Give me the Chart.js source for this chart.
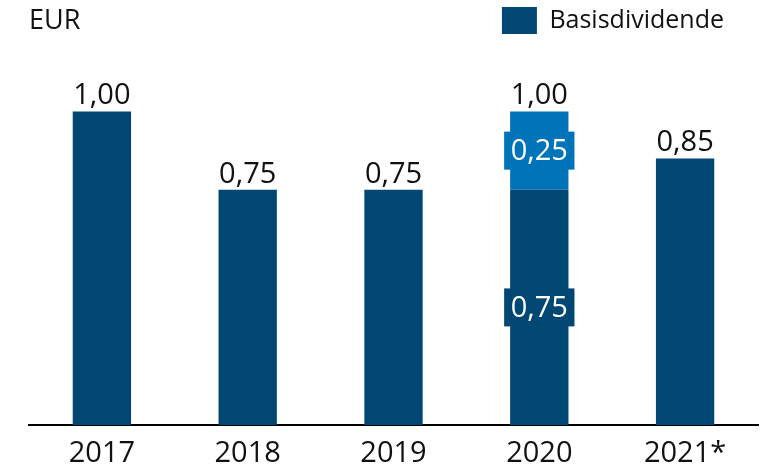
<!DOCTYPE html>
<html><head><meta charset="utf-8">
<script src="https://cdn.jsdelivr.net/npm/chart.js@4"></script>
<style>html,body{margin:0;padding:0;background:#fff}#wrap{width:781px;height:465px}</style>
</head><body><div id="wrap"><canvas id="c"></canvas></div>
<script>
const categories = ['2017', '2018', '2019', '2020', '2021*'];
const basisValues = [1.00, 0.75, 0.75, 0.75, 0.85];
const sonderValues = [0, 0, 0, 0.25, 0];
const seriesNames = ['Basisdividende', 'Sonderdividende'];
const unitLabel = 'EUR';

const FONT = '"Open Sans", "Noto Sans", sans-serif';
const fmt = v => v.toFixed(2).replace('.', ',');

const legendShift = {
  id: 'legendShift',
  afterLayout(chart) {
    if (chart.legend) chart.legend.right -= 27;
  }
};

const labelPlugin = {
  id: 'labels',
  afterDatasetsDraw(chart) {
    const ctx = chart.ctx;
    ctx.save();
    ctx.font = '27px ' + FONT;
    ctx.fillStyle = '#111';
    ctx.textAlign = 'left';
    ctx.textBaseline = 'middle';
    ctx.fillText(unitLabel, 29, 21);

    const n = chart.data.labels.length;
    for (let i = 0; i < n; i++) {
      let total = 0, topEl = null, nonzero = [];
      chart.data.datasets.forEach((ds, di) => {
        const v = ds.data[i];
        if (v) {
          total += v;
          const el = chart.getDatasetMeta(di).data[i];
          nonzero.push({ el, v, color: ds.backgroundColor });
          if (!topEl || el.y < topEl.y) topEl = el;
        }
      });
      if (!topEl) continue;
      ctx.font = '29px ' + FONT;
      ctx.fillStyle = '#111';
      ctx.textAlign = 'center';
      ctx.textBaseline = 'alphabetic';
      ctx.fillText(fmt(total), topEl.x, topEl.y - 7);
      if (nonzero.length > 1) {
        nonzero.forEach(({ el, v, color }) => {
          const cy = (el.y + el.base) / 2;
          const w = el.width + 12, h = 38;
          ctx.fillStyle = color;
          ctx.fillRect(el.x - w / 2, cy - h / 2, w, h);
          ctx.fillStyle = '#fff';
          ctx.textBaseline = 'middle';
          ctx.fillText(fmt(v), el.x, cy + 1);
        });
      }
    }
    ctx.restore();
  }
};

new Chart(document.getElementById('c'), {
  type: 'bar',
  data: {
    labels: categories,
    datasets: [
      { label: seriesNames[0], data: basisValues, backgroundColor: '#004873', barPercentage: 0.4, categoryPercentage: 1 },
      { label: seriesNames[1], data: sonderValues, backgroundColor: '#0073b9', barPercentage: 0.4, categoryPercentage: 1 }
    ]
  },
  options: {
    responsive: true,
    maintainAspectRatio: false,
    animation: false,
    layout: { padding: { left: 29, right: 23, top: 0, bottom: 0 } },
    plugins: {
      tooltip: { enabled: false },
      legend: {
        position: 'top',
        align: 'end',
        labels: {
          filter: item => item.datasetIndex === 0,
          boxWidth: 35,
          boxHeight: 27,
          color: '#111',
          font: { family: FONT, size: 25 },
          padding: 7
        }
      }
    },
    scales: {
      x: {
        stacked: true,
        grid: { display: false, drawTicks: false },
        border: { display: true, color: '#000', width: 2 },
        ticks: { color: '#111', font: { family: FONT, size: 29, lineHeight: 1 }, padding: 14 },
        afterFit: scale => { scale.height = 40; }
      },
      y: {
        stacked: true,
        display: false,
        min: 0,
        max: 1.215
      }
    }
  },
  plugins: [legendShift, labelPlugin]
});
</script>
</body></html>
